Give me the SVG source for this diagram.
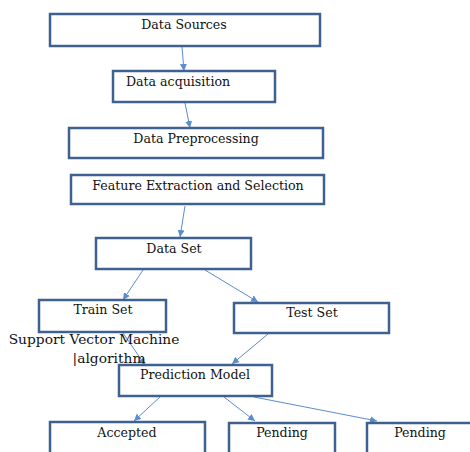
<svg xmlns="http://www.w3.org/2000/svg" width="470" height="452" viewBox="0 0 470 452">
<style>
.box{fill:#fff;stroke:#3F618F;stroke-width:2.5}
.t{font-family:"DejaVu Serif","Liberation Serif",serif;font-size:12.6px;fill:#111;text-anchor:middle}
.s{font-size:13.8px}
.c{stroke:#5B8CCB;stroke-width:1;fill:none;marker-end:url(#ah)}
</style>
<defs>
<marker id="ah" viewBox="0 0 10 10" refX="10" refY="5" markerWidth="7" markerHeight="7" markerUnits="userSpaceOnUse" orient="auto">
<path d="M0,0 L10,5 L0,10 z" fill="#5B8CCB"/>
</marker>
</defs>
<rect width="470" height="452" fill="#fff"/>
<g id="connectors">
<line class="c" x1="182" y1="47" x2="184" y2="71"/>
<line class="c" x1="185" y1="103" x2="190" y2="128"/>
<line class="c" x1="185" y1="206" x2="180" y2="237"/>
<line class="c" x1="143" y1="270" x2="123" y2="300"/>
<line class="c" x1="205" y1="270" x2="258" y2="302"/>
<line class="c" x1="123" y1="333" x2="145" y2="365"/>
<line class="c" x1="268" y1="334" x2="232" y2="364"/>
<line class="c" x1="160" y1="397" x2="134" y2="421"/>
<line class="c" x1="224" y1="397" x2="255" y2="421"/>
<line class="c" x1="254" y1="397" x2="377" y2="421"/>
</g>
<g id="n1"><rect class="box" x="50" y="14" width="270" height="32"/><text class="t" x="184" y="29">Data Sources</text></g>
<g id="n2"><rect class="box" x="113" y="71" width="162" height="31"/><text class="t" x="178" y="86">Data acquisition</text></g>
<g id="n3"><rect class="box" x="69" y="128" width="254" height="30"/><text class="t" x="196" y="143">Data Preprocessing</text></g>
<g id="n4"><rect class="box" x="71" y="175" width="253" height="29"/><text class="t" x="198" y="190">Feature Extraction and Selection</text></g>
<g id="n5"><rect class="box" x="96" y="238" width="155" height="31"/><text class="t" x="174" y="253">Data Set</text></g>
<g id="n6"><rect class="box" x="39" y="300" width="127" height="32"/><text class="t" x="103" y="314">Train Set</text></g>
<g id="n7"><rect class="box" x="234" y="303" width="155" height="30"/><text class="t" x="312" y="317">Test Set</text></g>
<g id="svm"><text class="t s" x="94" y="344">Support Vector Machine</text><text class="t s" x="109" y="363">|algorithm</text></g>
<g id="n8"><rect class="box" x="119" y="365" width="153" height="31"/><text class="t" x="195" y="379">Prediction Model</text></g>
<g id="n9"><rect class="box" x="50" y="422" width="155" height="40"/><text class="t" x="127" y="437">Accepted</text></g>
<g id="n10"><rect class="box" x="229" y="423" width="106" height="40"/><text class="t" x="282" y="437">Pending</text></g>
<g id="n11"><rect class="box" x="367" y="423" width="110" height="40"/><text class="t" x="420" y="437">Pending</text></g>
</svg>
